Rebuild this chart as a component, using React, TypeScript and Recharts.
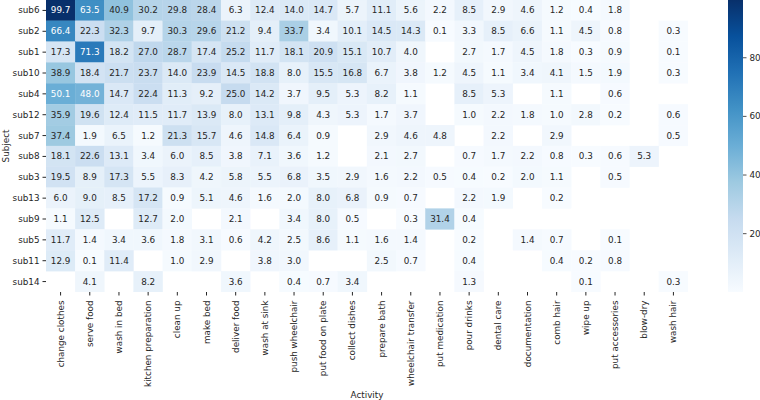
import React from 'react';
import { ScatterChart, Scatter, XAxis, YAxis } from 'recharts';

const SUBJECTS = ['sub6', 'sub2', 'sub1', 'sub10', 'sub4', 'sub12', 'sub7', 'sub8', 'sub3', 'sub13', 'sub9', 'sub5', 'sub11', 'sub14'];
const ACTIVITIES = [
  'change clothes', 'serve food', 'wash in bed', 'kitchen preparation', 'clean up', 'make bed',
  'deliver food', 'wash at sink', 'push wheelchair', 'put food on plate', 'collect dishes',
  'prepare bath', 'wheelchair transfer', 'put medication', 'pour drinks', 'dental care',
  'documentation', 'comb hair', 'wipe up', 'put accessories', 'blow-dry', 'wash hair',
];

const N = null;
const SUB6 = [99.7, 63.5, 40.9, 30.2, 29.8, 28.4, 6.3, 12.4, 14.0, 14.7, 5.7, 11.1, 5.6, 2.2, 8.5, 2.9, 4.6, 1.2, 0.4, 1.8, N, N];
const SUB2 = [66.4, 22.3, 32.3, 9.7, 30.3, 29.6, 21.2, 9.4, 33.7, 3.4, 10.1, 14.5, 14.3, 0.1, 3.3, 8.5, 6.6, 1.1, 4.5, 0.8, N, 0.3];
const SUB1 = [17.3, 71.3, 18.2, 27.0, 28.7, 17.4, 25.2, 11.7, 18.1, 20.9, 15.1, 10.7, 4.0, N, 2.7, 1.7, 4.5, 1.8, 0.3, 0.9, N, 0.1];
const SUB10 = [38.9, 18.4, 21.7, 23.7, 14.0, 23.9, 14.5, 18.8, 8.0, 15.5, 16.8, 6.7, 3.8, 1.2, 4.5, 1.1, 3.4, 4.1, 1.5, 1.9, N, 0.3];
const SUB4 = [50.1, 48.0, 14.7, 22.4, 11.3, 9.2, 25.0, 14.2, 3.7, 9.5, 5.3, 8.2, 1.1, N, 8.5, 5.3, N, 1.1, N, 0.6, N, N];
const SUB12 = [35.9, 19.6, 12.4, 11.5, 11.7, 13.9, 8.0, 13.1, 9.8, 4.3, 5.3, 1.7, 3.7, N, 1.0, 2.2, 1.8, 1.0, 2.8, 0.2, N, 0.6];
const SUB7 = [37.4, 1.9, 6.5, 1.2, 21.3, 15.7, 4.6, 14.8, 6.4, 0.9, N, 2.9, 4.6, 4.8, N, 2.2, N, 2.9, N, N, N, 0.5];
const SUB8 = [18.1, 22.6, 13.1, 3.4, 6.0, 8.5, 3.8, 7.1, 3.6, 1.2, N, 2.1, 2.7, N, 0.7, 1.7, 2.2, 0.8, 0.3, 0.6, 5.3, N];
const SUB3 = [19.5, 8.9, 17.3, 5.5, 8.3, 4.2, 5.8, 5.5, 6.8, 3.5, 2.9, 1.6, 2.2, 0.5, 0.4, 0.2, 2.0, 1.1, N, 0.5, N, N];
const SUB13 = [6.0, 9.0, 8.5, 17.2, 0.9, 5.1, 4.6, 1.6, 2.0, 8.0, 6.8, 0.9, 0.7, N, 2.2, 1.9, N, 0.2, N, N, N, N];
const SUB9 = [1.1, 12.5, N, 12.7, 2.0, N, 2.1, N, 3.4, 8.0, 0.5, N, 0.3, 31.4, 0.4, N, N, N, N, N, N, N];
const SUB5 = [11.7, 1.4, 3.4, 3.6, 1.8, 3.1, 0.6, 4.2, 2.5, 8.6, 1.1, 1.6, 1.4, N, 0.2, N, 1.4, 0.7, N, 0.1, N, N];
const SUB11 = [12.9, 0.1, 11.4, N, 1.0, 2.9, N, 3.8, 3.0, N, N, 2.5, 0.7, N, 0.4, N, N, 0.4, 0.2, 0.8, N, N];
const SUB14 = [N, 4.1, N, 8.2, N, N, 3.6, N, 0.4, 0.7, 3.4, N, N, N, 1.3, N, N, N, 0.1, N, N, 0.3];

const ROWS = [SUB6, SUB2, SUB1, SUB10, SUB4, SUB12, SUB7, SUB8, SUB3, SUB13, SUB9, SUB5, SUB11, SUB14];
const COLORBAR_TICKS = [20, 40, 60, 80];

const BLUES = ['#f7fbff', '#deebf7', '#c6dbef', '#9ecae1', '#6baed6', '#4292c6', '#2171b5', '#08519c', '#08306b'];
const FONT = "'DejaVu Sans', sans-serif";
const TEXT = '#262626';
const FS = 8.8;

const W = 760;
const H = 400;
const PLOT_LEFT = 46;
const PLOT_RIGHT = 688;
const PLOT_TOP = 0;
const PLOT_BOTTOM = 292;
const CELL_W = (PLOT_RIGHT - PLOT_LEFT) / ACTIVITIES.length;
const CELL_H = (PLOT_BOTTOM - PLOT_TOP) / SUBJECTS.length;

const allVals = ROWS.flat().filter((v) => v !== null) as number[];
const VMIN = Math.min(...allVals);
const VMAX = Math.max(...allVals);

function hexToRgb(h: string) {
  return [parseInt(h.slice(1, 3), 16), parseInt(h.slice(3, 5), 16), parseInt(h.slice(5, 7), 16)];
}
function blues(t: number): number[] {
  const tt = Math.max(0, Math.min(1, t));
  const s = tt * (BLUES.length - 1);
  const i = Math.min(BLUES.length - 2, Math.floor(s));
  const f = s - i;
  const a = hexToRgb(BLUES[i]);
  const b = hexToRgb(BLUES[i + 1]);
  return [0, 1, 2].map((k) => a[k] + (b[k] - a[k]) * f);
}
function rgbStr(c: number[]) {
  return `rgb(${Math.round(c[0])},${Math.round(c[1])},${Math.round(c[2])})`;
}
function luminance(c: number[]) {
  const lin = c.map((v) => {
    const x = v / 255;
    return x <= 0.03928 ? x / 12.92 : Math.pow((x + 0.055) / 1.055, 2.4);
  });
  return 0.2126 * lin[0] + 0.7152 * lin[1] + 0.0722 * lin[2];
}

const cells: { x: number; y: number; v: number }[] = [];
ROWS.forEach((row, r) => {
  row.forEach((v, c) => {
    if (v !== null) cells.push({ x: c, y: r, v: v as number });
  });
});

const X_TICKS = ACTIVITIES.map((_, i) => i);
const Y_TICKS = SUBJECTS.map((_, i) => i);

const renderCell = (props: any) => {
  const { cx, cy, payload } = props;
  if (cx == null || cy == null) return <g />;
  const col = blues((payload.v - VMIN) / (VMAX - VMIN));
  const txt = luminance(col) < 0.408 ? '#ffffff' : TEXT;
  return (
    <g>
      <rect x={cx - CELL_W / 2} y={cy - CELL_H / 2} width={CELL_W} height={CELL_H} fill={rgbStr(col)} stroke={rgbStr(col)} strokeWidth={0.3} />
      <text x={cx} y={cy} textAnchor="middle" dominantBaseline="central" fontSize={FS} fontFamily={FONT} fill={txt}>
        {payload.v.toFixed(1)}
      </text>
    </g>
  );
};

const XTick = (props: any) => {
  const { x, y, payload } = props;
  return (
    <g transform={`translate(${x},${y})`}>
      <text transform="rotate(-90)" textAnchor="end" dominantBaseline="central" fontSize={FS} fontFamily={FONT} fill={TEXT}>
        {ACTIVITIES[payload.value]}
      </text>
    </g>
  );
};

const YTick = (props: any) => {
  const { x, y, payload } = props;
  return (
    <text x={x} y={y} textAnchor="end" dominantBaseline="central" fontSize={FS} fontFamily={FONT} fill={TEXT}>
      {SUBJECTS[payload.value]}
    </text>
  );
};

const CB_X = 728;
const CB_W = 15;

export default function App() {
  const cbH = PLOT_BOTTOM - PLOT_TOP;
  return (
    <div style={{ position: 'absolute', left: 0, top: 0, width: W, height: H, background: '#fff' }}>
      <div style={{ position: 'absolute', left: 0, top: 0 }}>
        <ScatterChart width={W} height={H} margin={{ top: PLOT_TOP, right: W - PLOT_RIGHT, bottom: 0, left: 0 }}>
          <XAxis
            type="number"
            dataKey="x"
            domain={[-0.5, ACTIVITIES.length - 0.5]}
            ticks={X_TICKS}
            interval={0}
            axisLine={false}
            tickLine={{ stroke: TEXT }}
            tickSize={3.5}
            tickMargin={5}
            height={H - PLOT_BOTTOM}
            tick={<XTick />}
            allowDataOverflow
          />
          <YAxis
            type="number"
            dataKey="y"
            domain={[-0.5, SUBJECTS.length - 0.5]}
            reversed
            ticks={Y_TICKS}
            interval={0}
            axisLine={false}
            tickLine={{ stroke: TEXT }}
            tickSize={3.5}
            tickMargin={3}
            width={PLOT_LEFT}
            tick={<YTick />}
            allowDataOverflow
          />
          <Scatter data={cells} shape={renderCell} isAnimationActive={false} />
        </ScatterChart>
      </div>
      <svg width={W} height={H} style={{ position: 'absolute', left: 0, top: 0, pointerEvents: 'none' }}>
        <defs>
          <linearGradient id="cbgrad" x1="0" y1="1" x2="0" y2="0">
            {BLUES.map((c, i) => (
              <stop key={i} offset={`${(i / (BLUES.length - 1)) * 100}%`} stopColor={c} />
            ))}
          </linearGradient>
        </defs>
        <rect x={CB_X} y={PLOT_TOP} width={CB_W} height={cbH} fill="url(#cbgrad)" />
        {COLORBAR_TICKS.map((t) => {
          const y = PLOT_TOP + ((VMAX - t) / (VMAX - VMIN)) * cbH;
          return (
            <g key={t}>
              <line x1={CB_X + CB_W} x2={CB_X + CB_W + 3.5} y1={y} y2={y} stroke={TEXT} strokeWidth={0.8} />
              <text x={CB_X + CB_W + 6.5} y={y} dominantBaseline="central" fontSize={FS} fontFamily={FONT} fill={TEXT}>
                {t}
              </text>
            </g>
          );
        })}
        <text
          transform={`translate(6,${(PLOT_TOP + PLOT_BOTTOM) / 2}) rotate(-90)`}
          textAnchor="middle"
          dominantBaseline="central"
          fontSize={FS}
          fontFamily={FONT}
          fill={TEXT}
        >
          Subject
        </text>
        <text x={(PLOT_LEFT + PLOT_RIGHT) / 2} y={397.5} textAnchor="middle" fontSize={FS} fontFamily={FONT} fill={TEXT}>
          Activity
        </text>
      </svg>
    </div>
  );
}
